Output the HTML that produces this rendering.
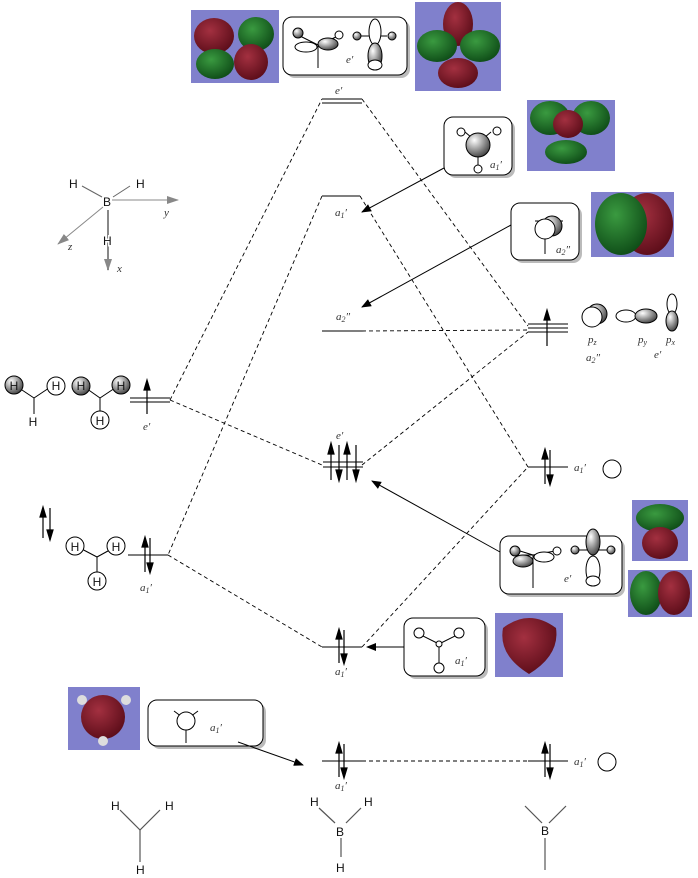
<!DOCTYPE html>
<html><head><meta charset="utf-8"><style>
html,body{margin:0;padding:0;background:#fff;}
svg{display:block;}
text{font-family:"Liberation Serif",serif;font-style:italic;font-size:11px;fill:#333;}
.h{font-family:"Liberation Sans",sans-serif;font-style:normal;font-size:12px;fill:#111;}
</style></head><body>
<svg width="698" height="878" viewBox="0 0 698 878" xmlns="http://www.w3.org/2000/svg">
<defs>
<radialGradient id="red" cx="0.4" cy="0.35" r="0.7"><stop offset="0" stop-color="#a33040"/><stop offset="1" stop-color="#5a0c18"/></radialGradient>
<radialGradient id="grn" cx="0.4" cy="0.35" r="0.7"><stop offset="0" stop-color="#3a9a40"/><stop offset="1" stop-color="#0d4a16"/></radialGradient>
<radialGradient id="gry" cx="0.35" cy="0.3" r="0.8"><stop offset="0" stop-color="#fff"/><stop offset="1" stop-color="#333"/></radialGradient>
<marker id="ah" markerWidth="10" markerHeight="8" refX="9" refY="4" orient="auto" markerUnits="userSpaceOnUse"><path d="M0,0 L10,4 L0,8 Z" fill="#000"/></marker>
<marker id="ag" markerWidth="12" markerHeight="8" refX="11" refY="4" orient="auto" markerUnits="userSpaceOnUse"><path d="M0,0 L12,4 L0,8 Z" fill="#888"/></marker>
</defs>

<rect x="191" y="10" width="88" height="73" fill="#8080cc"/>
<ellipse cx="214" cy="36" rx="20" ry="18" fill="url(#red)"/><ellipse cx="256" cy="34" rx="18" ry="17" fill="url(#grn)"/>
<ellipse cx="215" cy="64" rx="19" ry="15" fill="url(#grn)"/><ellipse cx="251" cy="62" rx="17" ry="18" fill="url(#red)"/>
<rect x="415" y="2" width="86" height="89" fill="#8080cc"/>
<ellipse cx="458" cy="24" rx="15" ry="22" fill="url(#red)"/><ellipse cx="437" cy="46" rx="20" ry="16" fill="url(#grn)"/><ellipse cx="480" cy="46" rx="20" ry="16" fill="url(#grn)"/><ellipse cx="458" cy="73" rx="20" ry="15" fill="url(#red)"/>
<rect x="527" y="100" width="88" height="71" fill="#8080cc"/>
<ellipse cx="550" cy="118" rx="20" ry="17" fill="url(#grn)"/><ellipse cx="591" cy="118" rx="19" ry="17" fill="url(#grn)"/><ellipse cx="568" cy="124" rx="15" ry="14" fill="url(#red)"/><ellipse cx="566" cy="152" rx="21" ry="12" fill="url(#grn)"/>
<rect x="591" y="192" width="83" height="65" fill="#8080cc"/>
<ellipse cx="647" cy="224" rx="26" ry="31" fill="url(#red)"/><ellipse cx="621" cy="224" rx="26" ry="31" fill="url(#grn)"/>
<rect x="632" y="500" width="56" height="61" fill="#8080cc"/>
<ellipse cx="660" cy="518" rx="24" ry="14" fill="url(#grn)"/><ellipse cx="660" cy="543" rx="18" ry="16" fill="url(#red)"/>
<rect x="628" y="570" width="64" height="47" fill="#8080cc"/>
<ellipse cx="646" cy="593" rx="16" ry="22" fill="url(#grn)"/><ellipse cx="674" cy="593" rx="16" ry="22" fill="url(#red)"/>
<rect x="495" y="613" width="68" height="64" fill="#8080cc"/>
<path d="M503,628 Q529,608 556,628 Q560,655 529,674 Q498,655 503,628Z" fill="url(#red)"/>
<rect x="68" y="687" width="72" height="63" fill="#8080cc"/>
<circle cx="103" cy="717" r="22" fill="url(#red)"/>
<circle cx="82" cy="700" r="5" fill="#ddd"/><circle cx="126" cy="700" r="5" fill="#ddd"/><circle cx="103" cy="741" r="5" fill="#ddd"/>

<g fill="#fff" stroke="#000" stroke-width="1">
<rect x="286" y="20" width="124" height="58" rx="9" fill="#bbb" stroke="none"/><rect x="283" y="17" width="124" height="58" rx="9"/>
<rect x="447" y="120" width="68" height="58" rx="9" fill="#bbb" stroke="none"/><rect x="444" y="117" width="68" height="58" rx="9"/>
<rect x="514" y="206" width="68" height="57" rx="9" fill="#bbb" stroke="none"/><rect x="511" y="203" width="68" height="57" rx="9"/>
<rect x="503" y="539" width="122" height="58" rx="9" fill="#bbb" stroke="none"/><rect x="500" y="536" width="122" height="58" rx="9"/>
<rect x="407" y="621" width="81" height="58" rx="9" fill="#bbb" stroke="none"/><rect x="404" y="618" width="81" height="58" rx="9"/>
<rect x="151" y="703" width="115" height="46" rx="9" fill="#bbb" stroke="none"/><rect x="148" y="700" width="115" height="46" rx="9"/>
</g>
<g stroke="#000" stroke-width="1" fill="#fff">
<line x1="318" y1="45" x2="318" y2="68"/><line x1="300" y1="36" x2="318" y2="45"/><line x1="318" y1="45" x2="336" y2="37"/>
<ellipse cx="306" cy="47" rx="11" ry="5"/><ellipse cx="328" cy="44" rx="10" ry="6" fill="url(#gry)"/>
<circle cx="298" cy="33" r="5" fill="url(#gry)"/><circle cx="339" cy="35" r="4"/>
<line x1="361" y1="36" x2="387" y2="36"/><ellipse cx="375" cy="32" rx="6" ry="13"/><ellipse cx="375" cy="56" rx="7" ry="13" fill="url(#gry)"/><ellipse cx="375" cy="65" rx="7" ry="5"/>
<circle cx="357" cy="36" r="4" fill="url(#gry)"/><circle cx="392" cy="36" r="4" fill="url(#gry)"/>
<line x1="465" y1="132" x2="478" y2="143"/><line x1="491" y1="132" x2="478" y2="143"/><line x1="478" y1="143" x2="478" y2="169"/>
<circle cx="461" cy="132" r="4"/><circle cx="497" cy="131" r="4"/><circle cx="478" cy="169" r="4"/><circle cx="478" cy="145" r="12" fill="url(#gry)"/>
<line x1="535" y1="221" x2="563" y2="221"/><line x1="545" y1="235" x2="545" y2="254"/>
<circle cx="552" cy="226" r="10" fill="url(#gry)"/><circle cx="545" cy="229" r="10"/>
<line x1="523" y1="555" x2="535" y2="555"/><line x1="533" y1="555" x2="533" y2="588"/><line x1="520" y1="551" x2="533" y2="555"/><line x1="533" y1="555" x2="555" y2="551"/>
<ellipse cx="544" cy="557" rx="10" ry="5"/><ellipse cx="523" cy="561" rx="10" ry="6" fill="url(#gry)"/>
<circle cx="515" cy="551" r="5" fill="url(#gry)"/><circle cx="557" cy="551" r="4"/>
<line x1="575" y1="550" x2="612" y2="550"/><ellipse cx="593" cy="542" rx="7" ry="13" fill="url(#gry)"/><ellipse cx="593" cy="570" rx="7" ry="14"/><ellipse cx="593" cy="581" rx="7" ry="5"/>
<circle cx="575" cy="550" r="4" fill="url(#gry)"/><circle cx="611" cy="550" r="4" fill="url(#gry)"/>
<line x1="419" y1="634" x2="439" y2="644"/><line x1="459" y1="634" x2="439" y2="644"/><line x1="439" y1="644" x2="439" y2="665"/>
<circle cx="419" cy="633" r="5"/><circle cx="459" cy="633" r="5"/><circle cx="439" cy="668" r="5"/><circle cx="439" cy="644" r="3"/>
<line x1="174" y1="711" x2="182" y2="717"/><line x1="198" y1="711" x2="190" y2="717"/><line x1="186" y1="730" x2="186" y2="743"/>
<circle cx="186" cy="721" r="9"/>
</g>
<text x="346" y="63">e′</text><text x="490" y="168">a<tspan font-size="8" dy="2">1</tspan><tspan dy="-2">′</tspan></text>
<text x="556" y="253">a<tspan font-size="8" dy="2">2</tspan><tspan dy="-2">″</tspan></text>
<text x="564" y="582">e′</text><text x="455" y="664">a<tspan font-size="8" dy="2">1</tspan><tspan dy="-2">′</tspan></text>
<text x="210" y="731">a<tspan font-size="8" dy="2">1</tspan><tspan dy="-2">′</tspan></text>

<g stroke="#000" stroke-width="0.9" stroke-dasharray="4,3" fill="none">
<line x1="170" y1="400" x2="322" y2="99"/>
<line x1="170" y1="400" x2="322" y2="465"/>
<line x1="362" y1="99" x2="528" y2="326"/>
<line x1="322" y1="196" x2="168" y2="555"/>
<line x1="360" y1="196" x2="528" y2="467"/>
<line x1="362" y1="331" x2="528" y2="330"/>
<line x1="362" y1="465" x2="528" y2="332"/>
<line x1="168" y1="555" x2="322" y2="647"/>
<line x1="362" y1="647" x2="528" y2="467"/>
<line x1="362" y1="761" x2="528" y2="761"/>
</g>
<g stroke="#555" stroke-width="1.5">
<line x1="322" y1="99" x2="362" y2="99"/><line x1="322" y1="103" x2="362" y2="103"/>
<line x1="322" y1="196" x2="360" y2="196"/>
<line x1="322" y1="331" x2="362" y2="331"/>
<line x1="323" y1="462" x2="363" y2="462"/><line x1="323" y1="467" x2="363" y2="467"/>
<line x1="322" y1="647" x2="362" y2="647"/>
<line x1="322" y1="761" x2="362" y2="761"/>
<line x1="528" y1="324" x2="568" y2="324"/><line x1="528" y1="328" x2="568" y2="328"/><line x1="528" y1="332" x2="568" y2="332"/>
<line x1="528" y1="467" x2="568" y2="467"/>
<line x1="528" y1="761" x2="568" y2="761"/>
<line x1="130" y1="398" x2="170" y2="398"/><line x1="130" y1="402" x2="170" y2="402"/>
<line x1="128" y1="555" x2="168" y2="555"/>
</g>
<g stroke="#000" stroke-width="1.2" fill="#000">
<line x1="547" y1="312" x2="547" y2="346"/><path d="M544,320 L547,310 L550,320Z"/>
<line x1="147" y1="382" x2="147" y2="414"/><path d="M144,390 L147,380 L150,390Z"/>
<line x1="331" y1="445" x2="331" y2="480"/><path d="M328,454 L331,443 L334,454Z"/><line x1="339" y1="445" x2="339" y2="480"/><path d="M336,470 L339,481 L342,470Z"/>
<line x1="347" y1="445" x2="347" y2="480"/><path d="M344,454 L347,443 L350,454Z"/><line x1="356" y1="445" x2="356" y2="480"/><path d="M353,470 L356,481 L359,470Z"/>
<line x1="339" y1="630" x2="339" y2="663"/><path d="M336,639 L339,629 L342,639Z"/><line x1="344" y1="630" x2="344" y2="663"/><path d="M341,654 L344,664 L347,654Z"/>
<line x1="339" y1="744" x2="339" y2="777"/><path d="M336,753 L339,743 L342,753Z"/><line x1="344" y1="744" x2="344" y2="777"/><path d="M341,768 L344,778 L347,768Z"/>
<line x1="545" y1="450" x2="545" y2="484"/><path d="M542,459 L545,449 L548,459Z"/><line x1="550" y1="450" x2="550" y2="484"/><path d="M547,475 L550,485 L553,475Z"/>
<line x1="545" y1="744" x2="545" y2="777"/><path d="M542,753 L545,743 L548,753Z"/><line x1="550" y1="744" x2="550" y2="777"/><path d="M547,768 L550,778 L553,768Z"/>
<line x1="145" y1="538" x2="145" y2="572"/><path d="M142,547 L145,537 L148,547Z"/><line x1="150" y1="538" x2="150" y2="572"/><path d="M147,563 L150,573 L153,563Z"/>
<line x1="43" y1="508" x2="43" y2="538"/><path d="M40,517 L43,507 L46,517Z"/><line x1="50" y1="508" x2="50" y2="540"/><path d="M47,530 L50,540 L53,530Z"/>
</g>
<g stroke="#000" stroke-width="1" marker-end="url(#ah)">
<line x1="444" y1="168" x2="362" y2="212"/>
<line x1="511" y1="225" x2="362" y2="307"/>
<line x1="500" y1="552" x2="372" y2="481"/>
<line x1="404" y1="647" x2="367" y2="647"/>
<line x1="238" y1="742" x2="303" y2="765"/>
</g>
<text x="335" y="94">e′</text>
<text x="335" y="216">a<tspan font-size="8" dy="2">1</tspan><tspan dy="-2">′</tspan></text>
<text x="336" y="320">a<tspan font-size="8" dy="2">2</tspan><tspan dy="-2">″</tspan></text>
<text x="336" y="439">e′</text>
<text x="335" y="675">a<tspan font-size="8" dy="2">1</tspan><tspan dy="-2">′</tspan></text>
<text x="335" y="789">a<tspan font-size="8" dy="2">1</tspan><tspan dy="-2">′</tspan></text>
<text x="143" y="430">e′</text>
<text x="140" y="591">a<tspan font-size="8" dy="2">1</tspan><tspan dy="-2">′</tspan></text>
<text x="574" y="471">a<tspan font-size="8" dy="2">1</tspan><tspan dy="-2">′</tspan></text>
<text x="574" y="765">a<tspan font-size="8" dy="2">1</tspan><tspan dy="-2">′</tspan></text>
<circle cx="612" cy="469" r="9" fill="none" stroke="#000"/>
<circle cx="607" cy="762" r="9" fill="none" stroke="#000"/>
<g stroke="#000" stroke-width="1">
<circle cx="597" cy="314" r="10" fill="url(#gry)"/><circle cx="592" cy="317" r="10" fill="#fff"/>
<ellipse cx="626" cy="316" rx="10" ry="6" fill="#fff"/><ellipse cx="646" cy="316" rx="11" ry="7" fill="url(#gry)"/>
<ellipse cx="672" cy="304" rx="5" ry="10" fill="#fff"/><ellipse cx="672" cy="321" rx="6" ry="10" fill="url(#gry)"/>
</g>
<text x="588" y="343">p<tspan font-size="8" dy="2">z</tspan></text>
<text x="586" y="361">a<tspan font-size="8" dy="2">2</tspan><tspan dy="-2">″</tspan></text>
<text x="638" y="343">p<tspan font-size="8" dy="2">y</tspan></text>
<text x="666" y="343">p<tspan font-size="8" dy="2">x</tspan></text>
<text x="654" y="358">e′</text>
<g stroke="#000" stroke-width="1">
<line x1="16" y1="386" x2="34" y2="398"/><line x1="52" y1="386" x2="34" y2="398"/><line x1="34" y1="398" x2="34" y2="414"/>
<circle cx="14" cy="385" r="9" fill="url(#gry)"/><circle cx="56" cy="386" r="9" fill="#fff"/>
<line x1="83" y1="386" x2="100" y2="398"/><line x1="118" y1="386" x2="100" y2="398"/><line x1="100" y1="398" x2="100" y2="412"/>
<circle cx="81" cy="386" r="9" fill="url(#gry)"/><circle cx="121" cy="385" r="9" fill="url(#gry)"/><circle cx="100" cy="420" r="9" fill="#fff"/>
<line x1="76" y1="546" x2="97" y2="557"/><line x1="117" y1="546" x2="97" y2="557"/><line x1="97" y1="557" x2="97" y2="576"/>
<circle cx="75" cy="546" r="9" fill="#fff"/><circle cx="116" cy="546" r="9" fill="#fff"/><circle cx="97" cy="581" r="9" fill="#fff"/>
</g>
<g text-anchor="middle">
<text class="h" x="14" y="390">H</text><text class="h" x="56" y="390">H</text><text class="h" x="33" y="426">H</text>
<text class="h" x="81" y="390">H</text><text class="h" x="121" y="390">H</text><text class="h" x="100" y="425">H</text>
<text class="h" x="75" y="551">H</text><text class="h" x="116" y="551">H</text><text class="h" x="97" y="586">H</text>
</g>
<g stroke="#666" stroke-width="1">
<line x1="82" y1="186" x2="102" y2="197"/><line x1="130" y1="186" x2="113" y2="197"/>
<line x1="112" y1="200" x2="178" y2="200" stroke="#888" marker-end="url(#ag)"/>
<line x1="103" y1="207" x2="58" y2="244" stroke="#888" marker-end="url(#ag)"/>
<line x1="108" y1="210" x2="108" y2="270" stroke="#888" stroke-width="2" marker-end="url(#ag)"/>
</g>
<text class="h" x="69" y="188">H</text><text class="h" x="136" y="188">H</text><text class="h" x="103" y="206">B</text><text class="h" x="103" y="245" style="fill:#fff" stroke="#fff" stroke-width="3">H</text><text class="h" x="103" y="245">H</text>
<text x="164" y="216">y</text><text x="68" y="250">z</text><text x="117" y="272">x</text>
<g stroke="#555" stroke-width="1.2">
<line x1="120" y1="810" x2="140" y2="830"/><line x1="160" y1="810" x2="140" y2="830"/><line x1="140" y1="830" x2="140" y2="862"/>
<line x1="319" y1="808" x2="335" y2="823"/><line x1="361" y1="808" x2="346" y2="823"/><line x1="341" y1="838" x2="341" y2="857"/>
<line x1="525" y1="806" x2="542" y2="823"/><line x1="566" y1="806" x2="549" y2="823"/><line x1="545" y1="838" x2="545" y2="870"/>
</g>
<text class="h" x="111" y="810">H</text><text class="h" x="165" y="810">H</text><text class="h" x="136" y="874">H</text>
<text class="h" x="310" y="806">H</text><text class="h" x="364" y="806">H</text><text class="h" x="336" y="836">B</text><text class="h" x="336" y="872">H</text>
<text class="h" x="541" y="835">B</text>
</svg>
</body></html>
